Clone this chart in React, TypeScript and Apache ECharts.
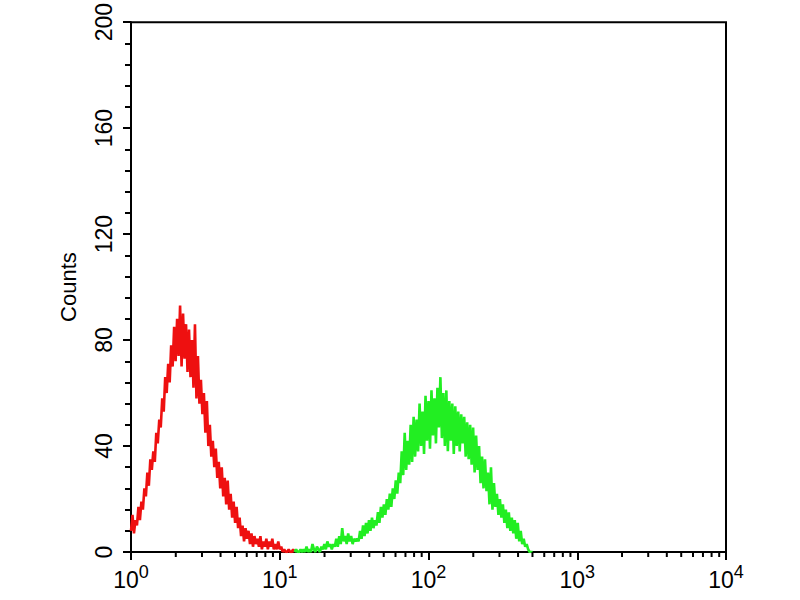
import React, { useEffect, useRef } from "react";
import * as echarts from "echarts";

// Histogram bins: log10 position of first bin and bin width (log units)
const redStartLog = 0.0;
const greenStartLog = 1.1;
const binWidthLog = 0.01;

// Counts per bin (isotype control, red)
const redCounts = [
  8, 14, 7, 12, 10, 17, 12, 19, 16, 24,
  21, 30, 25, 35, 31, 38, 34, 45, 41, 50,
  47, 58, 53, 66, 60, 71, 64, 78, 70, 85,
  72, 88, 74, 93, 70, 90, 73, 86, 68, 84,
  66, 80, 62, 86, 58, 74, 56, 65, 52, 60,
  45, 57, 40, 48, 36, 42, 32, 39, 28, 34,
  24, 32, 21, 28, 18, 27, 16, 22, 13, 19,
  11, 17, 9, 13, 6, 10, 4, 9, 5, 8,
  3, 7, 2, 6, 3, 5, 2, 6, 1, 4,
  2, 5, 1, 4, 2, 5, 1, 3, 1, 4,
  1, 2, 0, 1, 0, 0, 1, 0, 0, 1, 0,
];

// Counts per bin (antibody stained, green)
const greenCounts = [
  0, 1, 0, 0, 1, 0, 1, 0, 2, 0,
  1, 0, 3, 1, 0, 2, 1, 0, 2, 1,
  3, 1, 4, 2, 3, 1, 3, 2, 5, 2,
  6, 3, 9, 4, 6, 3, 7, 4, 6, 3,
  5, 4, 5, 4, 8, 5, 10, 6, 11, 7,
  12, 8, 13, 9, 12, 10, 15, 11, 17, 13,
  18, 14, 20, 16, 22, 17, 24, 20, 27, 22,
  30, 26, 38, 29, 45, 31, 42, 33, 48, 34,
  51, 36, 50, 38, 56, 40, 53, 37, 59, 42,
  57, 39, 61, 44, 58, 41, 62, 47, 66, 43,
  60, 40, 61, 38, 57, 42, 56, 37, 55, 40,
  53, 38, 52, 41, 51, 36, 49, 35, 48, 33,
  47, 30, 44, 31, 40, 26, 36, 24, 35, 23,
  30, 18, 32, 16, 26, 17, 22, 14, 20, 13,
  18, 11, 16, 9, 15, 8, 13, 7, 12, 5,
  11, 4, 8, 3, 5, 2, 3, 1, 0, 0, 0,
];

// Axis ticks
const yTicks = [0, 40, 80, 120, 160, 200];
const xDecades = [1, 10, 100, 1000, 10000];
const minorMultipliers = [2, 3, 4, 5, 6, 7, 8, 9];

const FONT = "Liberation Sans, Arial, sans-serif";

function toSeries(startLog: number, counts: number[]) {
  return counts.map((c, i) => [Math.pow(10, startLog + i * binWidthLog), c]);
}

export default function App() {
  const ref = useRef<HTMLDivElement>(null);

  useEffect(() => {
    if (!ref.current) return;
    const chart = echarts.init(ref.current, null, { renderer: "svg" });

    const minorTicks: number[][] = [];
    xDecades.slice(0, -1).forEach((d) =>
      minorMultipliers.forEach((m) => minorTicks.push([d * m, 0]))
    );

    chart.setOption({
      animation: false,
      backgroundColor: "#ffffff",
      grid: {
        left: 131,
        right: 74,
        top: 22,
        bottom: 48,
        show: true,
        borderColor: "#000",
        borderWidth: 2,
        backgroundColor: "transparent",
      },
      xAxis: {
        type: "log",
        logBase: 10,
        min: xDecades[0],
        max: xDecades[xDecades.length - 1],
        axisLine: { show: true, lineStyle: { color: "#000", width: 2 } },
        axisTick: { show: true, length: 8, lineStyle: { color: "#000", width: 2 } },
        splitLine: { show: false },
        axisLabel: {
          margin: 11,
          color: "#000",
          formatter: (v: number) => `{b|10}{s|${Math.round(Math.log10(v))}}`,
          rich: {
            b: { fontSize: 23, fontFamily: FONT, color: "#000" },
            s: { fontSize: 18, fontFamily: FONT, color: "#000", padding: [0, 0, 16, 0] },
          },
        },
      },
      yAxis: {
        type: "value",
        min: yTicks[0],
        max: yTicks[yTicks.length - 1],
        interval: 40,
        name: "Counts",
        nameLocation: "middle",
        nameRotate: 90,
        nameGap: 52,
        nameTextStyle: { fontSize: 22, fontFamily: FONT, color: "#000" },
        axisLine: { show: true, lineStyle: { color: "#000", width: 2 } },
        axisTick: { show: true, length: 8, lineStyle: { color: "#000", width: 2 } },
        minorTick: { show: true, splitNumber: 5, length: 6, lineStyle: { color: "#000", width: 2 } },
        splitLine: { show: false },
        minorSplitLine: { show: false },
        axisLabel: {
          rotate: 90,
          margin: 16,
          fontSize: 23,
          fontFamily: FONT,
          color: "#000",
        },
      },
      series: [
        {
          type: "line",
          data: toSeries(redStartLog, redCounts),
          showSymbol: false,
          lineStyle: { color: "#ee1010", width: 2.6 },
          itemStyle: { color: "#ee1010" },
          z: 3,
        },
        {
          type: "line",
          data: toSeries(greenStartLog, greenCounts),
          showSymbol: false,
          lineStyle: { color: "#22ee22", width: 2.6 },
          itemStyle: { color: "#22ee22" },
          z: 3,
        },
        {
          type: "custom",
          clip: false,
          silent: true,
          data: minorTicks,
          renderItem: (params: any, api: any) => {
            const p = api.coord([api.value(0), 0]);
            return {
              type: "line",
              shape: { x1: p[0], y1: p[1], x2: p[0], y2: p[1] + 5 },
              style: { stroke: "#000", lineWidth: 2 },
            };
          },
          z: 5,
        },
      ],
    });

    return () => chart.dispose();
  }, []);

  return (
    <div
      ref={ref}
      style={{ position: "fixed", left: 0, top: 0, width: 800, height: 600, background: "#fff" }}
    />
  );
}
